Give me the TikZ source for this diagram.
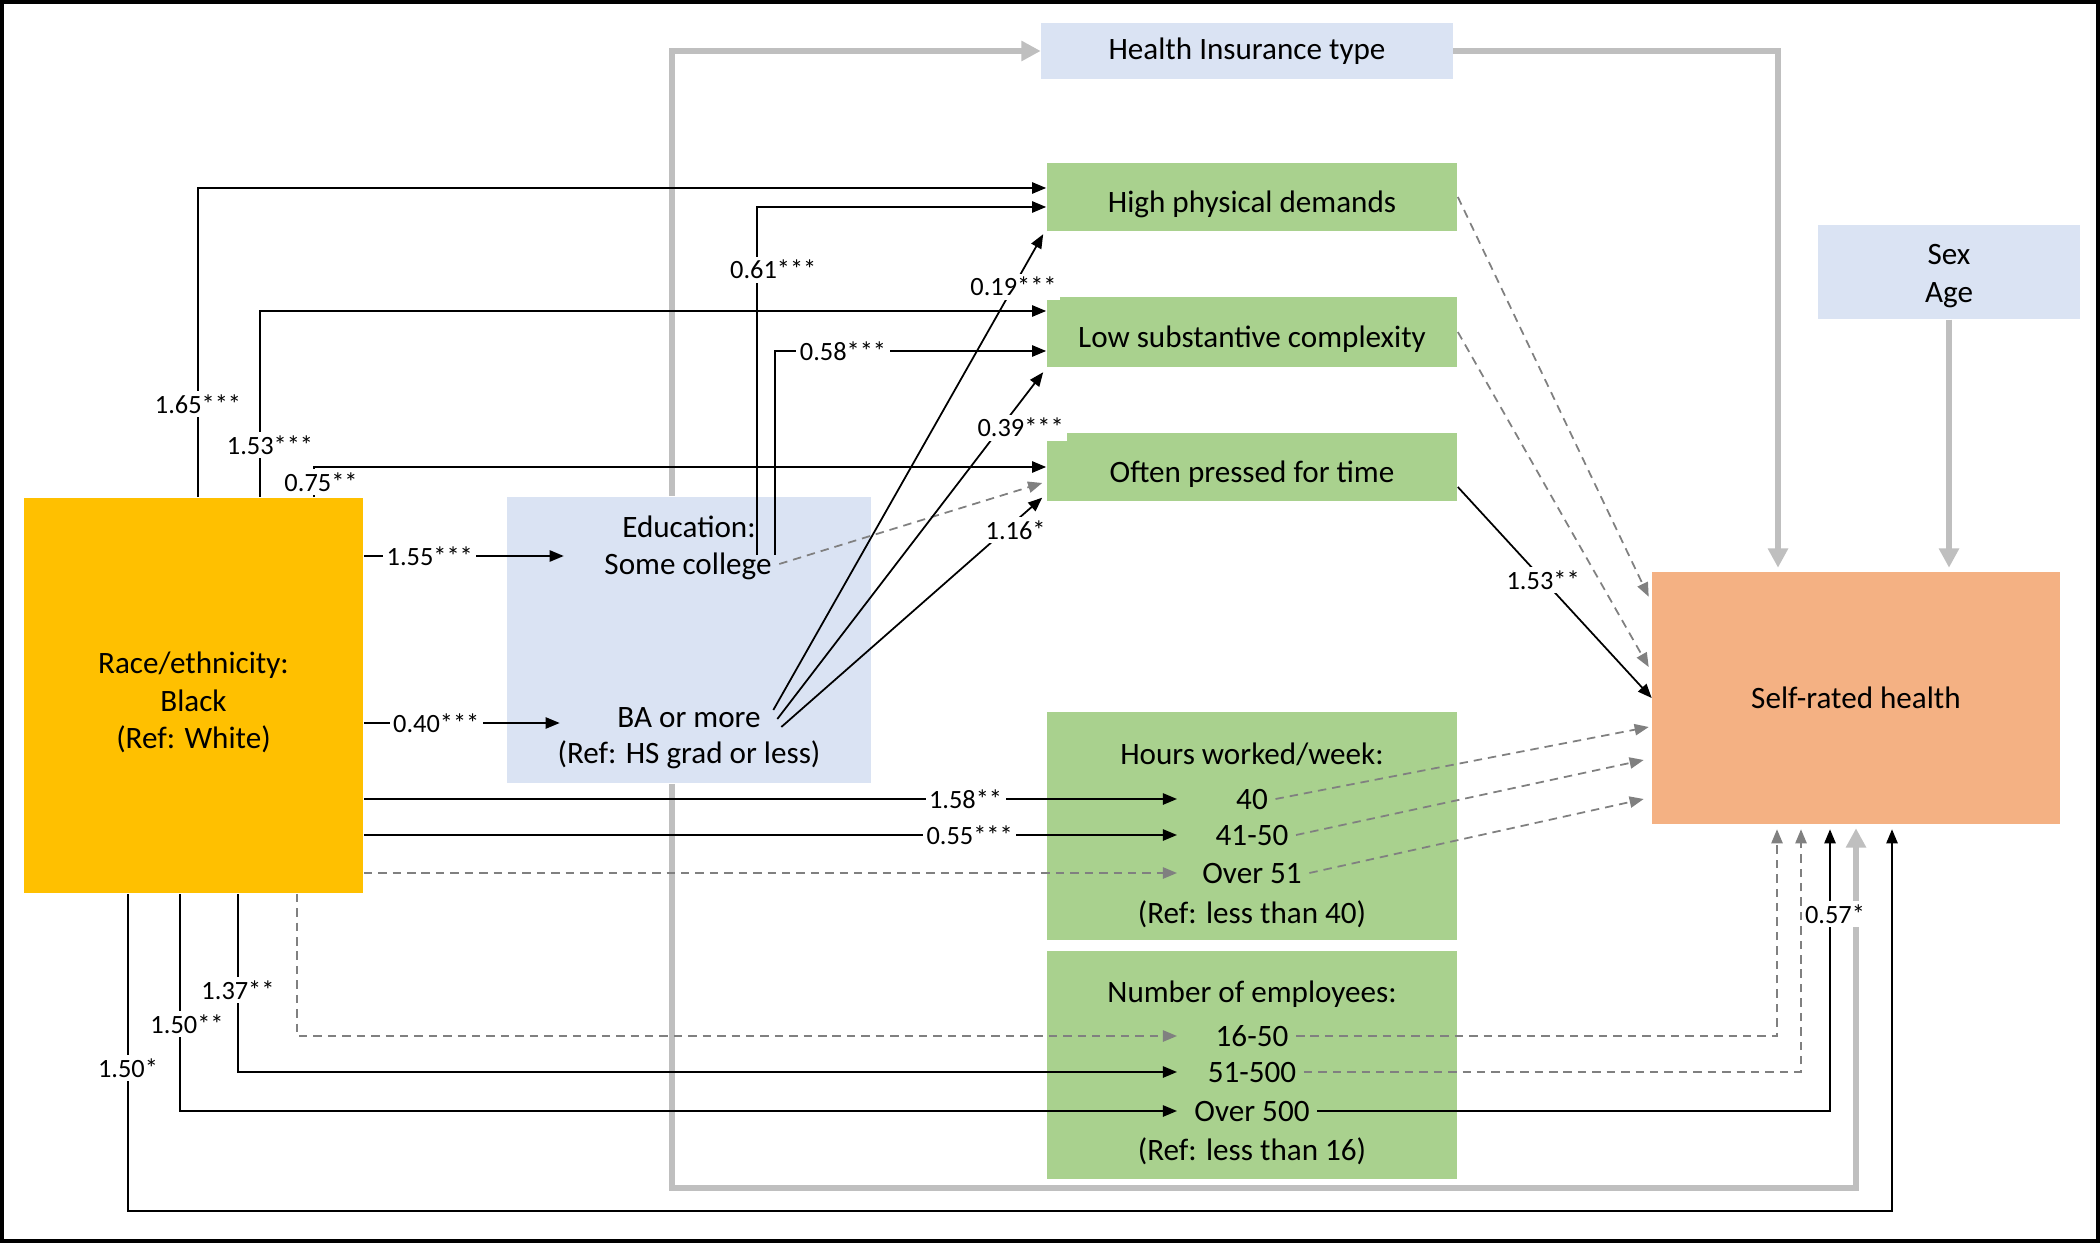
\documentclass[tikz,border=0pt]{standalone}
\usepackage{fontspec}
\setmainfont{Carlito}
\usetikzlibrary{arrows.meta,calc}

\definecolor{raceor}{HTML}{FFC000}
\definecolor{paleblue}{HTML}{DAE3F3}
\definecolor{jobgreen}{HTML}{A9D18E}
\definecolor{srhsalmon}{HTML}{F4B183}
\definecolor{thickgray}{HTML}{BFBFBF}
\definecolor{dashgray}{HTML}{808080}

\newcommand{\boxfont}{\fontsize{8.85}{10.6}\selectfont}
\newcommand{\lblfont}{\fontsize{7.5}{9}\selectfont}

\tikzset{
  box/.style={inner sep=0pt, align=center, font=\boxfont},
  low/.style={text height=10.8pt, text depth=2.2pt},
  txt/.style={inner sep=2pt, font=\boxfont, text height=8.4pt, text depth=2.2pt},
  lbl/.style={fill=white, inner sep=1pt, font=\lblfont},
  blk/.style={line width=0.5pt, -{Triangle[length=4pt,width=3.2pt]}},
  dsh/.style={dashgray, line width=0.5pt, dash pattern=on 2.4pt off 1.7pt, -{Triangle[length=4pt,width=3.2pt]}},
  gry/.style={thickgray, line width=1.6pt, -{Triangle[length=5.5pt,width=5.5pt]}},
}

\begin{document}
\begin{tikzpicture}[x=0.01cm, y=-0.01cm]
    \useasboundingbox (0,0) rectangle (2100,1243);
    \draw[line width=1.2pt] (2,2) rectangle (2098,1241);
    % boxes
    \node[box, fill=raceor, minimum width=3.39cm, minimum height=3.95cm] (race) at (193.5,695.5) {};
    \node[box] (racet) at ($(race.center)+(0,7)$) {Race/ethnicity:\\Black\\(Ref: White)};
    \node[box, fill=paleblue, minimum width=3.64cm, minimum height=2.86cm] (edu) at (689,640) {};
    \node[txt] (edt) at (689,527) {Education:};
    \node[txt] (sc) at (688,564) {Some college};
    \node[txt] (ba) at (689,717) {BA or more};
    \node[txt] (baref) at (689,753) {(Ref: HS grad or less)};
    \node[box, fill=paleblue, minimum width=4.11cm, minimum height=0.56cm] (hi) at (1247,51) {Health Insurance type};
    \node[box, low, fill=jobgreen, minimum width=4.1cm, minimum height=0.67cm] (hpd) at (1252,197) {High physical demands};
    \node[box, low, fill=jobgreen, minimum width=4.1cm, minimum height=0.69cm] (lsc) at (1252,332) {Low substantive complexity};
    \node[box, low, fill=jobgreen, minimum width=4.1cm, minimum height=0.68cm] (opt) at (1252,467) {Often pressed for time};
    \node[box, fill=jobgreen, minimum width=4.1cm, minimum height=2.28cm] (hrs) at (1252,826) {};
    \node[txt] (hrst) at (1252,754) {Hours worked/week:};
    \node[txt] (h40) at (1252,799) {40};
    \node[txt] (h41) at (1252,835) {41-50};
    \node[txt] (h51) at (1252,873) {Over 51};
    \node[txt] (hrsref) at (1252,913) {(Ref: less than 40)};
    \node[box, fill=jobgreen, minimum width=4.1cm, minimum height=2.28cm] (emp) at (1252,1065) {};
    \node[txt] (empt) at (1252,992) {Number of employees:};
    \node[txt] (e16) at (1252,1036) {16-50};
    \node[txt] (e51) at (1252,1072) {51-500};
    \node[txt] (e500) at (1252,1111) {Over 500};
    \node[txt] (empref) at (1252,1150) {(Ref: less than 16)};
    \node[box, fill=paleblue, minimum width=2.62cm, minimum height=0.94cm] (sexage) at (1949,272) {};
    \node[box] (sexaget) at ($(sexage.center)+(0,4)$) {Sex\\Age};
    \node[box, fill=srhsalmon, minimum width=4.07cm, minimum height=2.51cm] (srh) at (1856,698) {Self-rated health};
    % gray paths
    \draw[gry] (edu.north -| 672,0) |- (hi.west);
    \draw[gry] (edu.south -| 672,0) |- ($(srh.south)+(0,364)$) -- ($(srh.south)+(0,4)$);
    \draw[gry] (hi.east) -| ($(srh.north)+(-78,-4)$);
    \draw[gry] (sexage.south) -- ($(srh.north -| sexage.south)+(0,-4)$);
    % race
    \draw[blk] (race.north -| 198,0) |- node[lbl, pos=0.15] {1.65***} ($(hpd.west)+(0,-9)$);
    \draw[blk] (race.north -| 260,0) |- node[lbl, pos=0.14, xshift=0.1cm] {1.53***} ($(lsc.west)+(0,-21)$);
    \draw[blk] (race.north -| 314,0) |- node[lbl, pos=0.25, xshift=0.07cm] {0.75**} (opt.west);
    \coordinate (scin) at ($(sc.west)+(-33,-8)$);
    \coordinate (bain) at ($(ba.west)+(-50,6)$);
    \draw[blk] (race.east |- scin) -- node[lbl, pos=0.33] {1.55***} (scin);
    \draw[blk] (race.east |- bain) -- node[lbl, pos=0.37] {0.40***} (bain);
    \coordinate (hx) at (1177,0);
    \draw[blk] (race.east |- h40) -- node[lbl, pos=0.74] {1.58**} (h40 -| hx);
    \draw[blk] (race.east |- h41) -- node[lbl, pos=0.745] {0.55***} (h41 -| hx);
    \draw[dsh] (race.east |- h51) -- (h51 -| hx);
    \draw[dsh] (race.south -| 297,0) |- (e16 -| hx);
    \draw[blk] (race.south -| 238,0) |- node[lbl, pos=0.27] {1.37**} (e51 -| hx);
    \draw[blk] (race.south -| 180,0) |- node[lbl, pos=0.30, xshift=0.07cm] {1.50**} (e500 -| hx);
    \draw[blk] (race.south -| 128,0) -- node[lbl, pos=0.55] {1.50*} (128,1211) -| ($(srh.south)+(36,5)$);
    % education
    \draw[blk] ($(sc.north east)+(-22,17)$) |- node[lbl, pos=0.41, xshift=0.16cm] {0.61***} ($(hpd.west)+(0,10)$);
    \draw[blk] ($(sc.north east)+(-4,17)$) |- node[lbl, pos=0.625] {0.58***} ($(lsc.west)+(0,19)$);
    \draw[dsh] (sc.east) -- ($(opt.west)+(-4,16)$);
    \draw[blk] ($(ba.east)+(5,-7)$) -- node[lbl, pos=0.89] {0.19***} ($(hpd.south west)+(-3,3)$);
    \draw[blk] ($(ba.east)+(9,2)$) -- node[lbl, pos=0.84, xshift=0.2cm] {0.39***} ($(lsc.south west)+(-3,5)$);
    \draw[blk] ($(ba.east)+(13,10)$) -- node[lbl, pos=0.86, xshift=0.1cm] {1.16*} ($(opt.south west)+(-4,-4)$);
    % self-rated health
    \draw[dsh] (hpd.east) -- ($(srh.north west)+(-3,25)$);
    \draw[dsh] (lsc.east) -- ($(srh.west)+(-3,-31)$);
    \draw[blk] ($(opt.east)+(0,20)$) -- node[lbl, pos=0.44] {1.53**} (srh.west);
    \draw[dsh] (h40.east) -- ($(srh.west)+(-3,29)$);
    \draw[dsh] (h41.east) -- ($(srh.west)+(-8,62)$);
    \draw[dsh] (h51.east) -- ($(srh.west)+(-8,101)$);
    \draw[dsh] (e16.east) -| ($(srh.south)+(-79,5)$);
    \draw[dsh] (e51.east) -| ($(srh.south)+(-55,5)$);
    \draw[blk] (e500.east) -| node[lbl, pos=0.85, xshift=0.05cm] {0.57*} ($(srh.south)+(-26,5)$);
\end{tikzpicture}
\end{document}
